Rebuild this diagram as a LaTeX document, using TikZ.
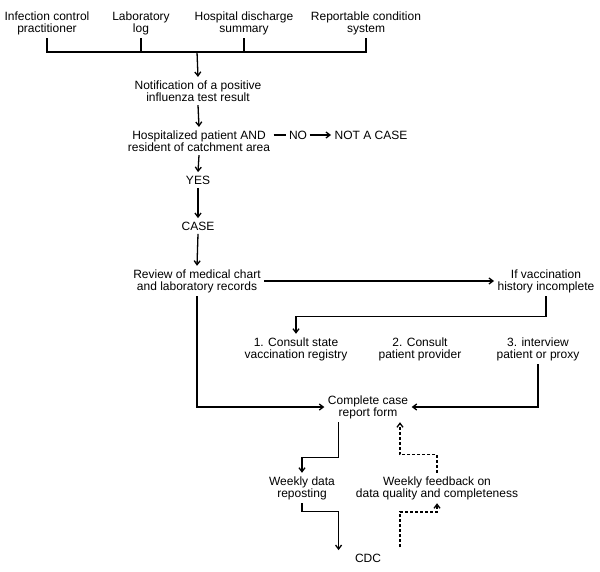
\documentclass[tikz,border=0pt]{standalone}
\usepackage{fontspec}
\setmainfont{Liberation Sans}
\usetikzlibrary{arrows.meta}
\begin{document}
\begin{tikzpicture}[x=1pt,y=1pt,line width=1.3pt,>={Straight Barb[length=4pt,width=6pt]},
  font=\fontsize{12}{12}\selectfont,
  every node/.style={align=center,inner sep=3pt},
  feed/.style={dash pattern=on 3pt off 2pt}]
\useasboundingbox (0,0) rectangle (600,-572);
%sources
 \node (icp) at (47,-23) {Infection control\\practitioner};
 \node (lab) at (141,-23) {Laboratory\\log};
 \node (hds) at (244,-23) {Hospital discharge\\summary};
 \node (rcs) at (366,-23) {Reportable condition\\system};
 \coordinate (bus) at (197,-52);
 \draw (icp.south) -- (icp.south |- bus) -- (rcs.south |- bus) -- (rcs.south); %bus line
 \draw (lab.south) -- (lab.south |- bus);
 \draw (hds.south) -- (hds.south |- bus);
%case finding
 \node (notif) at (198,-91) {Notification of a positive\\influenza test result};
 \draw[->] (bus) -- (notif.north);
 \node (hosp) at (199,-141) {Hospitalized patient AND\\resident of catchment area};
 \draw[->] (notif.south) -- (hosp.north);
 \node[inner sep=2pt] (no) at (298,-135) {NO};
 \node (notcase) at (371,-135) {NOT A CASE};
 \draw (no.west -| hosp.east) -- (no.west); %NO line
 \draw[->] (no.east) -- (notcase.west);
 \node (yes) at (198,-180) {YES};
 \draw[->] (hosp.south) -- (yes.north);
 \node (case) at (198,-226) {CASE};
 \draw[->] (yes.south) -- (case.north);
%vaccination history
 \node (review) at (197,-281) {Review of medical chart\\and laboratory records};
 \draw[->] (case.south) -- (review.north);
 \node (ifvac) at (546,-281) {If vaccination\\history incomplete};
 \draw[->] (review.east) -- (ifvac.west);
 \node (state) at (296,-349) {1. Consult state\\vaccination registry};
 \node (provider) at (420,-349) {2. Consult\\patient provider};
 \node (proxy) at (538,-349) {3. interview\\patient or proxy};
 \draw[->] (ifvac.south) -- ++(0,-20) -| (state.north);
 \node (form) at (368,-407) {Complete case\\report form};
 \draw[->] (review.south) |- (form.west);
 \draw[->] (proxy.south) |- (form.east);
%reporting
 \node (weekly) at (302,-488) {Weekly data\\reposting};
 \node (cdc) at (368,-558) {CDC};
 \node (feedback) at (437,-488) {Weekly feedback on\\data quality and completeness};
 \draw[->] (weekly.east |- form.south) -- ++(0,-35) -| (weekly.north);
 \draw[->] (weekly.south) -- ++(0,-8) -| (weekly.east |- cdc.north);
 \coordinate (fb) at (400,-547);
 \draw[feed,->] (fb) -- ++(0,35) -| (feedback.south); %feedback in
 \draw[feed,->] (feedback.north) -- ++(0,18) -| (fb |- form.south); %feedback out
\end{tikzpicture}
\end{document}
